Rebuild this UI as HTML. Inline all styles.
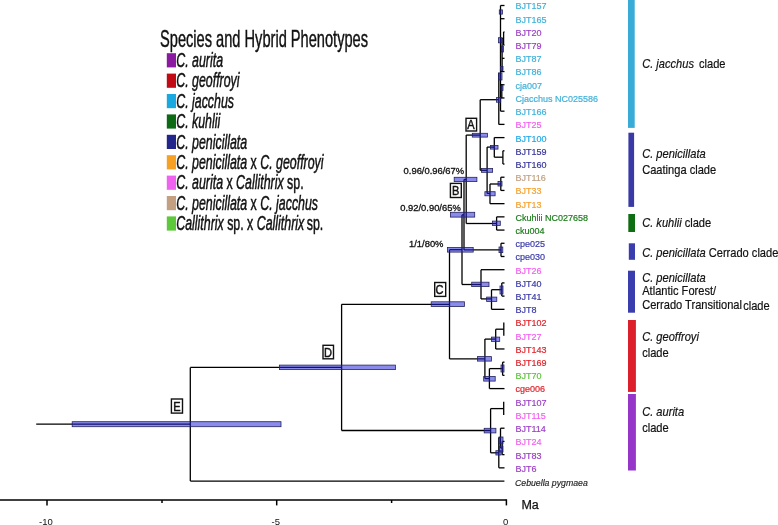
<!DOCTYPE html>
<html><head><meta charset="utf-8"><style>
html,body{margin:0;padding:0;background:#fff;}
svg{display:block;font-family:"Liberation Sans",sans-serif;will-change:transform;}
</style></head><body>
<svg width="778" height="525" viewBox="0 0 778 525">
<rect width="778" height="525" fill="#fff"/>
<line x1="36.2" y1="424.2" x2="190.3" y2="424.2" stroke="#000" stroke-width="1.3"/>
<line x1="190.3" y1="367.4" x2="190.3" y2="481.06" stroke="#000" stroke-width="1.3"/>
<line x1="190.3" y1="481.06" x2="504.4" y2="481.06" stroke="#000" stroke-width="1.3"/>
<line x1="190.3" y1="367.4" x2="341.6" y2="367.4" stroke="#000" stroke-width="1.3"/>
<line x1="341.6" y1="304.3" x2="341.6" y2="430.5" stroke="#000" stroke-width="1.3"/>
<line x1="341.6" y1="304.3" x2="449.5" y2="304.3" stroke="#000" stroke-width="1.3"/>
<line x1="449.5" y1="249.7" x2="449.5" y2="358.9" stroke="#000" stroke-width="1.3"/>
<line x1="449.5" y1="249.7" x2="462.0" y2="249.7" stroke="#000" stroke-width="1.3"/>
<line x1="462.0" y1="214.8" x2="462.0" y2="284.5" stroke="#000" stroke-width="1.3"/>
<line x1="462.0" y1="214.8" x2="464.0" y2="214.8" stroke="#000" stroke-width="1.3"/>
<line x1="464.0" y1="179.5" x2="464.0" y2="249.9" stroke="#000" stroke-width="1.3"/>
<line x1="464.0" y1="179.5" x2="466.2" y2="179.5" stroke="#000" stroke-width="1.3"/>
<line x1="466.2" y1="135.1" x2="466.2" y2="223.5" stroke="#000" stroke-width="1.3"/>
<line x1="466.2" y1="135.1" x2="480.2" y2="135.1" stroke="#000" stroke-width="1.3"/>
<line x1="480.2" y1="99.7" x2="480.2" y2="170.3" stroke="#000" stroke-width="1.3"/>
<line x1="480.2" y1="99.7" x2="498.8" y2="99.7" stroke="#000" stroke-width="1.3"/>
<line x1="498.8" y1="99.7" x2="498.8" y2="124.39" stroke="#000" stroke-width="1.3"/>
<line x1="498.8" y1="124.39" x2="504.5" y2="124.39" stroke="#000" stroke-width="1.3"/>
<line x1="500.5" y1="5.5" x2="500.5" y2="111.18" stroke="#000" stroke-width="1.3"/>
<line x1="500.5" y1="5.5" x2="504.5" y2="5.5" stroke="#000" stroke-width="1.3"/>
<line x1="500.5" y1="18.71" x2="504.5" y2="18.71" stroke="#000" stroke-width="1.3"/>
<line x1="500.5" y1="71.55" x2="504.5" y2="71.55" stroke="#000" stroke-width="1.3"/>
<line x1="500.5" y1="84.76" x2="504.5" y2="84.76" stroke="#000" stroke-width="1.3"/>
<line x1="500.5" y1="97.97" x2="504.5" y2="97.97" stroke="#000" stroke-width="1.3"/>
<line x1="500.5" y1="111.18" x2="504.5" y2="111.18" stroke="#000" stroke-width="1.3"/>
<line x1="503.6" y1="31.92" x2="503.6" y2="45.13" stroke="#000" stroke-width="1.3"/>
<line x1="503.6" y1="31.92" x2="504.5" y2="31.92" stroke="#000" stroke-width="1.3"/>
<line x1="503.6" y1="45.13" x2="504.5" y2="45.13" stroke="#000" stroke-width="1.3"/>
<line x1="502.1" y1="38.3" x2="503.6" y2="38.3" stroke="#000" stroke-width="1.3"/>
<line x1="502.1" y1="38.3" x2="502.1" y2="71.55" stroke="#000" stroke-width="1.3"/>
<line x1="502.1" y1="58.34" x2="504.5" y2="58.34" stroke="#000" stroke-width="1.3"/>
<line x1="498.8" y1="72.9" x2="498.8" y2="99.7" stroke="#000" stroke-width="1.3"/>
<line x1="501.8" y1="84.0" x2="501.8" y2="98.0" stroke="#000" stroke-width="1.3"/>
<line x1="480.2" y1="170.3" x2="487.1" y2="170.3" stroke="#000" stroke-width="1.3"/>
<line x1="487.1" y1="147.1" x2="487.1" y2="193.4" stroke="#000" stroke-width="1.3"/>
<line x1="487.1" y1="147.1" x2="494.3" y2="147.1" stroke="#000" stroke-width="1.3"/>
<line x1="494.3" y1="137.6" x2="494.3" y2="157.2" stroke="#000" stroke-width="1.3"/>
<line x1="494.3" y1="137.6" x2="504.5" y2="137.6" stroke="#000" stroke-width="1.3"/>
<line x1="494.3" y1="157.2" x2="502.9" y2="157.2" stroke="#000" stroke-width="1.3"/>
<line x1="502.9" y1="150.81" x2="502.9" y2="164.02" stroke="#000" stroke-width="1.3"/>
<line x1="502.9" y1="150.81" x2="504.5" y2="150.81" stroke="#000" stroke-width="1.3"/>
<line x1="502.9" y1="164.02" x2="504.5" y2="164.02" stroke="#000" stroke-width="1.3"/>
<line x1="487.1" y1="193.4" x2="490.0" y2="193.4" stroke="#000" stroke-width="1.3"/>
<line x1="490.0" y1="184.0" x2="490.0" y2="203.65" stroke="#000" stroke-width="1.3"/>
<line x1="490.0" y1="203.65" x2="504.5" y2="203.65" stroke="#000" stroke-width="1.3"/>
<line x1="490.0" y1="184.0" x2="500.8" y2="184.0" stroke="#000" stroke-width="1.3"/>
<line x1="500.8" y1="177.23" x2="500.8" y2="190.44" stroke="#000" stroke-width="1.3"/>
<line x1="500.8" y1="177.23" x2="504.5" y2="177.23" stroke="#000" stroke-width="1.3"/>
<line x1="500.8" y1="190.44" x2="504.5" y2="190.44" stroke="#000" stroke-width="1.3"/>
<line x1="466.2" y1="223.5" x2="496.6" y2="223.5" stroke="#000" stroke-width="1.3"/>
<line x1="496.6" y1="216.86" x2="496.6" y2="230.07" stroke="#000" stroke-width="1.3"/>
<line x1="496.6" y1="216.86" x2="504.5" y2="216.86" stroke="#000" stroke-width="1.3"/>
<line x1="496.6" y1="230.07" x2="504.5" y2="230.07" stroke="#000" stroke-width="1.3"/>
<line x1="464.0" y1="249.9" x2="501.0" y2="249.9" stroke="#000" stroke-width="1.3"/>
<line x1="501.0" y1="243.28" x2="501.0" y2="256.49" stroke="#000" stroke-width="1.3"/>
<line x1="501.0" y1="243.28" x2="504.5" y2="243.28" stroke="#000" stroke-width="1.3"/>
<line x1="501.0" y1="256.49" x2="504.5" y2="256.49" stroke="#000" stroke-width="1.3"/>
<line x1="462.0" y1="284.5" x2="481.0" y2="284.5" stroke="#000" stroke-width="1.3"/>
<line x1="481.0" y1="269.7" x2="481.0" y2="298.9" stroke="#000" stroke-width="1.3"/>
<line x1="481.0" y1="269.7" x2="504.5" y2="269.7" stroke="#000" stroke-width="1.3"/>
<line x1="481.0" y1="298.9" x2="491.5" y2="298.9" stroke="#000" stroke-width="1.3"/>
<line x1="491.5" y1="289.7" x2="491.5" y2="309.33" stroke="#000" stroke-width="1.3"/>
<line x1="491.5" y1="309.33" x2="504.5" y2="309.33" stroke="#000" stroke-width="1.3"/>
<line x1="491.5" y1="289.7" x2="501.8" y2="289.7" stroke="#000" stroke-width="1.3"/>
<line x1="501.8" y1="282.91" x2="501.8" y2="296.12" stroke="#000" stroke-width="1.3"/>
<line x1="501.8" y1="282.91" x2="504.5" y2="282.91" stroke="#000" stroke-width="1.3"/>
<line x1="501.8" y1="296.12" x2="504.5" y2="296.12" stroke="#000" stroke-width="1.3"/>
<line x1="449.5" y1="358.9" x2="484.9" y2="358.9" stroke="#000" stroke-width="1.3"/>
<line x1="484.9" y1="339.1" x2="484.9" y2="378.6" stroke="#000" stroke-width="1.3"/>
<line x1="484.9" y1="339.1" x2="495.7" y2="339.1" stroke="#000" stroke-width="1.3"/>
<line x1="495.7" y1="329.2" x2="495.7" y2="348.96" stroke="#000" stroke-width="1.3"/>
<line x1="495.7" y1="348.96" x2="504.5" y2="348.96" stroke="#000" stroke-width="1.3"/>
<line x1="495.7" y1="329.2" x2="503.8" y2="329.2" stroke="#000" stroke-width="1.3"/>
<line x1="503.8" y1="322.54" x2="503.8" y2="335.75" stroke="#000" stroke-width="1.3"/>
<line x1="484.9" y1="378.6" x2="489.4" y2="378.6" stroke="#000" stroke-width="1.3"/>
<line x1="489.4" y1="368.6" x2="489.4" y2="388.59" stroke="#000" stroke-width="1.3"/>
<line x1="489.4" y1="388.59" x2="504.5" y2="388.59" stroke="#000" stroke-width="1.3"/>
<line x1="489.4" y1="368.6" x2="502.6" y2="368.6" stroke="#000" stroke-width="1.3"/>
<line x1="502.6" y1="362.17" x2="502.6" y2="375.38" stroke="#000" stroke-width="1.3"/>
<line x1="502.6" y1="362.17" x2="504.5" y2="362.17" stroke="#000" stroke-width="1.3"/>
<line x1="502.6" y1="375.38" x2="504.5" y2="375.38" stroke="#000" stroke-width="1.3"/>
<line x1="341.6" y1="430.5" x2="490.6" y2="430.5" stroke="#000" stroke-width="1.3"/>
<line x1="490.6" y1="408.6" x2="490.6" y2="452.8" stroke="#000" stroke-width="1.3"/>
<line x1="490.6" y1="408.6" x2="503.7" y2="408.6" stroke="#000" stroke-width="1.3"/>
<line x1="503.7" y1="401.8" x2="503.7" y2="415.01" stroke="#000" stroke-width="1.3"/>
<line x1="490.6" y1="452.8" x2="498.8" y2="452.8" stroke="#000" stroke-width="1.3"/>
<line x1="498.8" y1="437.6" x2="498.8" y2="467.85" stroke="#000" stroke-width="1.3"/>
<line x1="498.8" y1="467.85" x2="504.5" y2="467.85" stroke="#000" stroke-width="1.3"/>
<line x1="498.8" y1="437.6" x2="500.5" y2="437.6" stroke="#000" stroke-width="1.3"/>
<line x1="500.5" y1="428.22" x2="500.5" y2="448.0" stroke="#000" stroke-width="1.3"/>
<line x1="500.5" y1="428.22" x2="504.5" y2="428.22" stroke="#000" stroke-width="1.3"/>
<line x1="500.5" y1="448.0" x2="502.2" y2="448.0" stroke="#000" stroke-width="1.3"/>
<line x1="502.2" y1="441.43" x2="502.2" y2="454.64" stroke="#000" stroke-width="1.3"/>
<line x1="502.2" y1="441.43" x2="504.5" y2="441.43" stroke="#000" stroke-width="1.3"/>
<line x1="502.2" y1="454.64" x2="504.5" y2="454.64" stroke="#000" stroke-width="1.3"/>
<rect x="72.2" y="421.7" width="208.8" height="5.0" fill="rgba(30,32,215,0.52)" stroke="#23235e" stroke-width="0.8"/>
<rect x="279.4" y="365.1" width="116.0" height="4.5" fill="rgba(30,32,215,0.52)" stroke="#23235e" stroke-width="0.8"/>
<rect x="431.2" y="301.8" width="33.19999999999999" height="4.800000000000011" fill="rgba(30,32,215,0.52)" stroke="#23235e" stroke-width="0.8"/>
<rect x="447.5" y="247.5" width="25.69999999999999" height="4.599999999999994" fill="rgba(30,32,215,0.52)" stroke="#23235e" stroke-width="0.8"/>
<rect x="450.4" y="212.3" width="24.30000000000001" height="4.799999999999983" fill="rgba(30,32,215,0.52)" stroke="#23235e" stroke-width="0.8"/>
<rect x="454.2" y="177.3" width="22.69999999999999" height="4.299999999999983" fill="rgba(30,32,215,0.52)" stroke="#23235e" stroke-width="0.8"/>
<rect x="472.3" y="133.3" width="15.300000000000011" height="3.799999999999983" fill="rgba(30,32,215,0.52)" stroke="#23235e" stroke-width="0.8"/>
<rect x="496.5" y="97.6" width="4.199999999999989" height="4.6000000000000085" fill="rgba(30,32,215,0.52)" stroke="#23235e" stroke-width="0.8"/>
<rect x="481.4" y="168.5" width="11.200000000000045" height="3.8000000000000114" fill="rgba(30,32,215,0.52)" stroke="#23235e" stroke-width="0.8"/>
<rect x="490.5" y="145.4" width="7.5" height="3.6999999999999886" fill="rgba(30,32,215,0.52)" stroke="#23235e" stroke-width="0.8"/>
<rect x="484.9" y="191.7" width="10.200000000000045" height="4.100000000000023" fill="rgba(30,32,215,0.52)" stroke="#23235e" stroke-width="0.8"/>
<rect x="498.0" y="181.4" width="4.0" height="4.599999999999994" fill="rgba(30,32,215,0.52)" stroke="#23235e" stroke-width="0.8"/>
<rect x="492.5" y="221.1" width="7.800000000000011" height="4.300000000000011" fill="rgba(30,32,215,0.52)" stroke="#23235e" stroke-width="0.8"/>
<rect x="499.0" y="247.0" width="3.8000000000000114" height="5.599999999999994" fill="rgba(30,32,215,0.52)" stroke="#23235e" stroke-width="0.8"/>
<rect x="471.7" y="282.2" width="17.30000000000001" height="4.400000000000034" fill="rgba(30,32,215,0.52)" stroke="#23235e" stroke-width="0.8"/>
<rect x="486.6" y="297.1" width="10.199999999999989" height="4.2999999999999545" fill="rgba(30,32,215,0.52)" stroke="#23235e" stroke-width="0.8"/>
<rect x="500.0" y="286.0" width="3.0" height="8.0" fill="rgba(30,32,215,0.52)" stroke="#23235e" stroke-width="0.8"/>
<rect x="477.4" y="356.6" width="14.0" height="4.5" fill="rgba(30,32,215,0.52)" stroke="#23235e" stroke-width="0.8"/>
<rect x="491.4" y="337.1" width="8.300000000000011" height="4.2999999999999545" fill="rgba(30,32,215,0.52)" stroke="#23235e" stroke-width="0.8"/>
<rect x="483.7" y="376.5" width="11.5" height="4.600000000000023" fill="rgba(30,32,215,0.52)" stroke="#23235e" stroke-width="0.8"/>
<rect x="501.0" y="365.0" width="3.0" height="7.0" fill="rgba(30,32,215,0.52)" stroke="#23235e" stroke-width="0.8"/>
<rect x="484.2" y="428.3" width="11.699999999999989" height="4.599999999999966" fill="rgba(30,32,215,0.52)" stroke="#23235e" stroke-width="0.8"/>
<rect x="495.9" y="450.7" width="5.2000000000000455" height="4.300000000000011" fill="rgba(30,32,215,0.52)" stroke="#23235e" stroke-width="0.8"/>
<rect x="499.0" y="437.0" width="4.0" height="7.0" fill="rgba(30,32,215,0.52)" stroke="#23235e" stroke-width="0.8"/>
<rect x="499.5" y="446.0" width="3.5" height="6.0" fill="rgba(30,32,215,0.52)" stroke="#23235e" stroke-width="0.8"/>
<rect x="499.3" y="9.9" width="3.099999999999966" height="4.199999999999999" fill="rgba(30,32,215,0.52)" stroke="#23235e" stroke-width="0.8"/>
<rect x="498.5" y="37.7" width="3.5" height="5.099999999999994" fill="rgba(30,32,215,0.52)" stroke="#23235e" stroke-width="0.8"/>
<rect x="501.5" y="46.0" width="2.0" height="6.0" fill="rgba(30,32,215,0.52)" stroke="#23235e" stroke-width="0.8"/>
<rect x="500.5" y="66.4" width="2.5" height="3.799999999999997" fill="rgba(30,32,215,0.52)" stroke="#23235e" stroke-width="0.8"/>
<rect x="498.5" y="72.9" width="3.5" height="7.099999999999994" fill="rgba(30,32,215,0.52)" stroke="#23235e" stroke-width="0.8"/>
<rect x="501.0" y="85.9" width="2.0" height="4.5" fill="rgba(30,32,215,0.52)" stroke="#23235e" stroke-width="0.8"/>
<rect x="466.0" y="118.3" width="10.600000000000023" height="12.700000000000003" fill="#fff" stroke="#111" stroke-width="1.4"/>
<text transform="translate(467.2,129.3) scale(0.92,1)" font-size="12" fill="#111" stroke="#111" stroke-width="0.45">A</text>
<rect x="450.4" y="183.4" width="10.900000000000034" height="14.099999999999994" fill="#fff" stroke="#111" stroke-width="1.4"/>
<text transform="translate(451.9,195.2) scale(0.92,1)" font-size="12" fill="#111" stroke="#111" stroke-width="0.45">B</text>
<rect x="434.7" y="282.5" width="11.0" height="13.899999999999977" fill="#fff" stroke="#111" stroke-width="1.4"/>
<text transform="translate(435.5,294.3) scale(0.92,1)" font-size="12" fill="#111" stroke="#111" stroke-width="0.45">C</text>
<rect x="323.0" y="345.3" width="10.5" height="13.5" fill="#fff" stroke="#111" stroke-width="1.4"/>
<text transform="translate(324.0,356.8) scale(0.92,1)" font-size="12" fill="#111" stroke="#111" stroke-width="0.45">D</text>
<rect x="171.4" y="399.0" width="11.099999999999994" height="14.100000000000023" fill="#fff" stroke="#111" stroke-width="1.4"/>
<text transform="translate(173.2,411.0) scale(0.92,1)" font-size="12" fill="#111" stroke="#111" stroke-width="0.45">E</text>
<text transform="translate(403.6,174.0) scale(1.045,1)" font-size="9" fill="#111" stroke="#111" stroke-width="0.3">0.96/0.96/67%</text>
<text transform="translate(400.2,210.5) scale(1.045,1)" font-size="9" fill="#111" stroke="#111" stroke-width="0.3">0.92/0.90/65%</text>
<text transform="translate(409.0,246.8) scale(1.045,1)" font-size="9" fill="#111" stroke="#111" stroke-width="0.3">1/1/80%</text>
<text transform="translate(515.5,9.4) scale(0.94,1)" font-size="9.6" fill="#3fb0d9" stroke="#3fb0d9" stroke-width="0.2">BJT157</text>
<text transform="translate(515.5,22.61) scale(0.94,1)" font-size="9.6" fill="#3fb0d9" stroke="#3fb0d9" stroke-width="0.2">BJT165</text>
<text transform="translate(515.5,35.82) scale(0.94,1)" font-size="9.6" fill="#9b3fc4" stroke="#9b3fc4" stroke-width="0.2">BJT20</text>
<text transform="translate(515.5,49.03) scale(0.94,1)" font-size="9.6" fill="#9b3fc4" stroke="#9b3fc4" stroke-width="0.2">BJT79</text>
<text transform="translate(515.5,62.24) scale(0.94,1)" font-size="9.6" fill="#3fb0d9" stroke="#3fb0d9" stroke-width="0.2">BJT87</text>
<text transform="translate(515.5,75.45) scale(0.94,1)" font-size="9.6" fill="#3fb0d9" stroke="#3fb0d9" stroke-width="0.2">BJT86</text>
<text transform="translate(515.5,88.66) scale(0.94,1)" font-size="9.6" fill="#3fb0d9" stroke="#3fb0d9" stroke-width="0.2">cja007</text>
<text transform="translate(515.5,101.87) scale(0.94,1)" font-size="9.6" fill="#3fb0d9" stroke="#3fb0d9" stroke-width="0.2">Cjacchus NC025586</text>
<text transform="translate(515.5,115.08) scale(0.94,1)" font-size="9.6" fill="#3fb0d9" stroke="#3fb0d9" stroke-width="0.2">BJT166</text>
<text transform="translate(515.5,128.29) scale(0.94,1)" font-size="9.6" fill="#f35ef0" stroke="#f35ef0" stroke-width="0.2">BJT25</text>
<text transform="translate(515.5,141.5) scale(0.94,1)" font-size="9.6" fill="#1fa9e8" stroke="#1fa9e8" stroke-width="0.2">BJT100</text>
<text transform="translate(515.5,154.71) scale(0.94,1)" font-size="9.6" fill="#35369a" stroke="#35369a" stroke-width="0.2">BJT159</text>
<text transform="translate(515.5,167.92) scale(0.94,1)" font-size="9.6" fill="#35369a" stroke="#35369a" stroke-width="0.2">BJT160</text>
<text transform="translate(515.5,181.13) scale(0.94,1)" font-size="9.6" fill="#c2a082" stroke="#c2a082" stroke-width="0.2">BJT116</text>
<text transform="translate(515.5,194.34) scale(0.94,1)" font-size="9.6" fill="#f6a12c" stroke="#f6a12c" stroke-width="0.2">BJT33</text>
<text transform="translate(515.5,207.55) scale(0.94,1)" font-size="9.6" fill="#f6a12c" stroke="#f6a12c" stroke-width="0.2">BJT13</text>
<text transform="translate(515.5,220.76) scale(0.94,1)" font-size="9.6" fill="#1a7d1a" stroke="#1a7d1a" stroke-width="0.2">Ckuhlii NC027658</text>
<text transform="translate(515.5,233.97) scale(0.94,1)" font-size="9.6" fill="#1a7d1a" stroke="#1a7d1a" stroke-width="0.2">cku004</text>
<text transform="translate(515.5,247.18) scale(0.94,1)" font-size="9.6" fill="#3a3aa8" stroke="#3a3aa8" stroke-width="0.2">cpe025</text>
<text transform="translate(515.5,260.39) scale(0.94,1)" font-size="9.6" fill="#3a3aa8" stroke="#3a3aa8" stroke-width="0.2">cpe030</text>
<text transform="translate(515.5,273.6) scale(0.94,1)" font-size="9.6" fill="#f35ef0" stroke="#f35ef0" stroke-width="0.2">BJT26</text>
<text transform="translate(515.5,286.81) scale(0.94,1)" font-size="9.6" fill="#3a3aa8" stroke="#3a3aa8" stroke-width="0.2">BJT40</text>
<text transform="translate(515.5,300.02) scale(0.94,1)" font-size="9.6" fill="#3a3aa8" stroke="#3a3aa8" stroke-width="0.2">BJT41</text>
<text transform="translate(515.5,313.23) scale(0.94,1)" font-size="9.6" fill="#3a3aa8" stroke="#3a3aa8" stroke-width="0.2">BJT8</text>
<text transform="translate(515.5,326.44) scale(0.94,1)" font-size="9.6" fill="#e2222a" stroke="#e2222a" stroke-width="0.2">BJT102</text>
<text transform="translate(515.5,339.65) scale(0.94,1)" font-size="9.6" fill="#f35ef0" stroke="#f35ef0" stroke-width="0.2">BJT27</text>
<text transform="translate(515.5,352.86) scale(0.94,1)" font-size="9.6" fill="#e2222a" stroke="#e2222a" stroke-width="0.2">BJT143</text>
<text transform="translate(515.5,366.07) scale(0.94,1)" font-size="9.6" fill="#e2222a" stroke="#e2222a" stroke-width="0.2">BJT169</text>
<text transform="translate(515.5,379.28) scale(0.94,1)" font-size="9.6" fill="#5cc43c" stroke="#5cc43c" stroke-width="0.2">BJT70</text>
<text transform="translate(515.5,392.49) scale(0.94,1)" font-size="9.6" fill="#e2222a" stroke="#e2222a" stroke-width="0.2">cge006</text>
<text transform="translate(515.5,405.7) scale(0.94,1)" font-size="9.6" fill="#9b3fc4" stroke="#9b3fc4" stroke-width="0.2">BJT107</text>
<text transform="translate(515.5,418.91) scale(0.94,1)" font-size="9.6" fill="#f35ef0" stroke="#f35ef0" stroke-width="0.2">BJT115</text>
<text transform="translate(515.5,432.12) scale(0.94,1)" font-size="9.6" fill="#9b3fc4" stroke="#9b3fc4" stroke-width="0.2">BJT114</text>
<text transform="translate(515.5,445.33) scale(0.94,1)" font-size="9.6" fill="#f35ef0" stroke="#f35ef0" stroke-width="0.2">BJT24</text>
<text transform="translate(515.5,458.54) scale(0.94,1)" font-size="9.6" fill="#9b3fc4" stroke="#9b3fc4" stroke-width="0.2">BJT83</text>
<text transform="translate(515.5,471.75) scale(0.94,1)" font-size="9.6" fill="#9b3fc4" stroke="#9b3fc4" stroke-width="0.2">BJT6</text>
<text transform="translate(515,485.66) scale(0.97,1)" font-size="9" font-style="italic" fill="#222" stroke="#222" stroke-width="0.15">Cebuella pygmaea</text>
<line x1="0" y1="500.0" x2="506.4" y2="500.0" stroke="#000" stroke-width="1.5"/>
<line x1="506.4" y1="499.3" x2="506.4" y2="505.4" stroke="#000" stroke-width="1.5"/>
<line x1="47.0" y1="500" x2="47.0" y2="505.4" stroke="#000" stroke-width="1.5"/>
<line x1="276.7" y1="500" x2="276.7" y2="505.4" stroke="#000" stroke-width="1.5"/>
<line x1="162.0" y1="500" x2="162.0" y2="503.0" stroke="#000" stroke-width="1.5"/>
<line x1="391.6" y1="500" x2="391.6" y2="503.0" stroke="#000" stroke-width="1.5"/>
<text x="39" y="524.5" font-size="9.5" fill="#111">-10</text>
<text x="271.5" y="524.5" font-size="9.5" fill="#111">-5</text>
<text x="503" y="524.5" font-size="9.5" fill="#111">0</text>
<text x="521.4" y="509.4" font-size="12.5" fill="#111" stroke="#111" stroke-width="0.25">Ma</text>
<rect x="628.0" y="0" width="6.7" height="127.9" fill="#38acd6"/>
<rect x="628.4" y="132.7" width="5.7" height="74.20000000000002" fill="#3a3aa6"/>
<rect x="628.3" y="214.0" width="6.7" height="18.0" fill="#0f6e12"/>
<rect x="628.8" y="243.3" width="6.2" height="16.5" fill="#3a3dae"/>
<rect x="628.0" y="270.7" width="7.0" height="42.0" fill="#3a3dae"/>
<rect x="628.0" y="320.0" width="7.9" height="71.89999999999998" fill="#dc1f2a"/>
<rect x="628.0" y="394.0" width="7.9" height="76.5" fill="#9636c8"/>
<text transform="translate(642.2,67.6) scale(0.895,1)" font-size="12.4" fill="#111" stroke="#111" stroke-width="0.2"><tspan font-style="italic">C. jacchus</tspan></text>
<text transform="translate(699.0,67.6) scale(0.895,1)" font-size="12.4" fill="#111" stroke="#111" stroke-width="0.2"><tspan font-style="normal">clade</tspan></text>
<text transform="translate(642.2,157.6) scale(0.895,1)" font-size="12.4" fill="#111" stroke="#111" stroke-width="0.2"><tspan font-style="italic">C. penicillata</tspan></text>
<text transform="translate(642.2,173.7) scale(0.895,1)" font-size="12.4" fill="#111" stroke="#111" stroke-width="0.2"><tspan font-style="normal">Caatinga clade</tspan></text>
<text transform="translate(642.2,226.7) scale(0.895,1)" font-size="12.4" fill="#111" stroke="#111" stroke-width="0.2"><tspan font-style="italic">C. kuhlii</tspan><tspan font-style="normal"> clade</tspan></text>
<text transform="translate(642.2,256.5) scale(0.895,1)" font-size="12.4" fill="#111" stroke="#111" stroke-width="0.2"><tspan font-style="italic">C. penicillata</tspan><tspan font-style="normal"> Cerrado clade</tspan></text>
<text transform="translate(642.2,281.9) scale(0.895,1)" font-size="12.4" fill="#111" stroke="#111" stroke-width="0.2"><tspan font-style="italic">C. penicillata</tspan></text>
<text transform="translate(642.2,295.3) scale(0.895,1)" font-size="12.4" fill="#111" stroke="#111" stroke-width="0.2"><tspan font-style="normal">Atlantic Forest/</tspan></text>
<text transform="translate(642.2,308.8) scale(0.895,1)" font-size="12.4" fill="#111" stroke="#111" stroke-width="0.2"><tspan font-style="normal">Cerrado Transitional</tspan></text>
<text transform="translate(743.2,310.0) scale(0.895,1)" font-size="12.4" fill="#111" stroke="#111" stroke-width="0.2"><tspan font-style="normal">clade</tspan></text>
<text transform="translate(642.2,340.8) scale(0.895,1)" font-size="12.4" fill="#111" stroke="#111" stroke-width="0.2"><tspan font-style="italic">C. geoffroyi</tspan></text>
<text transform="translate(642.2,356.6) scale(0.895,1)" font-size="12.4" fill="#111" stroke="#111" stroke-width="0.2"><tspan font-style="normal">clade</tspan></text>
<text transform="translate(642.2,416.0) scale(0.895,1)" font-size="12.4" fill="#111" stroke="#111" stroke-width="0.2"><tspan font-style="italic">C. aurita</tspan></text>
<text transform="translate(642.2,432.4) scale(0.895,1)" font-size="12.4" fill="#111" stroke="#111" stroke-width="0.2"><tspan font-style="normal">clade</tspan></text>
<text transform="translate(160,47.2) scale(0.6096,1)" font-size="24" fill="#111" stroke="#111" stroke-width="0.45">Species and Hybrid Phenotypes</text>
<rect x="166.8" y="53.2" width="9.2" height="14.2" fill="#8c1aa0"/>
<text transform="translate(176.2,67.0) scale(0.62,1)" font-size="20" fill="#111" stroke="#111" stroke-width="0.5"><tspan font-style="italic">C. aurita</tspan></text>
<rect x="166.8" y="73.6" width="9.2" height="14.2" fill="#c00a14"/>
<text transform="translate(176.2,87.4) scale(0.62,1)" font-size="20" fill="#111" stroke="#111" stroke-width="0.5"><tspan font-style="italic">C. geoffroyi</tspan></text>
<rect x="166.8" y="94.0" width="9.2" height="14.2" fill="#1aa8e0"/>
<text transform="translate(176.2,107.8) scale(0.62,1)" font-size="20" fill="#111" stroke="#111" stroke-width="0.5"><tspan font-style="italic">C. jacchus</tspan></text>
<rect x="166.8" y="114.4" width="9.2" height="14.2" fill="#0c6a14"/>
<text transform="translate(176.2,128.2) scale(0.62,1)" font-size="20" fill="#111" stroke="#111" stroke-width="0.5"><tspan font-style="italic">C. kuhlii</tspan></text>
<rect x="166.8" y="134.8" width="9.2" height="14.2" fill="#22268a"/>
<text transform="translate(176.2,148.6) scale(0.62,1)" font-size="20" fill="#111" stroke="#111" stroke-width="0.5"><tspan font-style="italic">C. penicillata</tspan></text>
<rect x="166.8" y="155.2" width="9.2" height="14.2" fill="#f6a024"/>
<text transform="translate(176.2,169.0) scale(0.62,1)" font-size="20" fill="#111" stroke="#111" stroke-width="0.5"><tspan font-style="italic">C. penicillata</tspan><tspan font-style="normal"> x </tspan><tspan font-style="italic">C. geoffroyi</tspan></text>
<rect x="166.8" y="175.6" width="9.2" height="14.2" fill="#f062f0"/>
<text transform="translate(176.2,189.4) scale(0.62,1)" font-size="20" fill="#111" stroke="#111" stroke-width="0.5"><tspan font-style="italic">C. aurita</tspan><tspan font-style="normal"> x </tspan><tspan font-style="italic">Callithrix</tspan><tspan font-style="normal"> sp.</tspan></text>
<rect x="166.8" y="196.0" width="9.2" height="14.2" fill="#c4a082"/>
<text transform="translate(176.2,209.8) scale(0.62,1)" font-size="20" fill="#111" stroke="#111" stroke-width="0.5"><tspan font-style="italic">C. penicillata</tspan><tspan font-style="normal"> x </tspan><tspan font-style="italic">C. jacchus</tspan></text>
<rect x="166.8" y="216.39999999999998" width="9.2" height="14.2" fill="#5cc83a"/>
<text transform="translate(176.2,230.2) scale(0.62,1)" font-size="20" fill="#111" stroke="#111" stroke-width="0.5"><tspan font-style="italic">Callithrix</tspan><tspan font-style="normal"> sp. x </tspan><tspan font-style="italic">Callithrix</tspan><tspan font-style="normal"> sp.</tspan></text>
</svg></body></html>
